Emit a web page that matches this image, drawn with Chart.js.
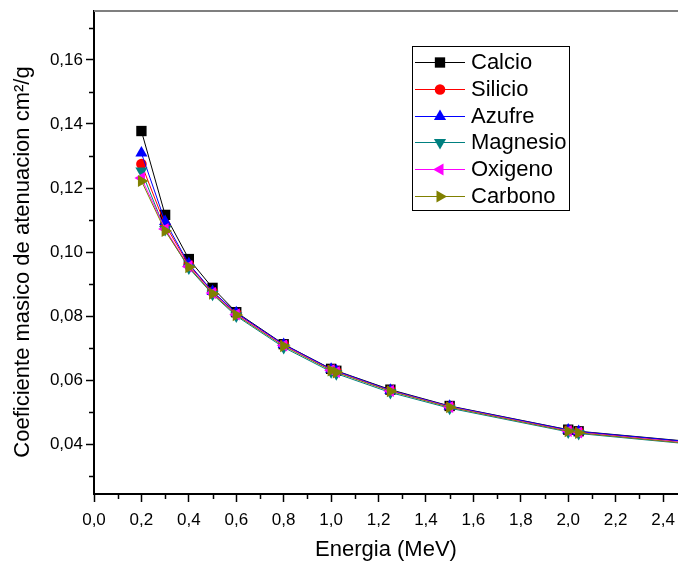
<!DOCTYPE html>
<html>
<head>
<meta charset="utf-8">
<script src="https://cdn.jsdelivr.net/npm/chart.js@4/dist/chart.umd.min.js"></script>
<style>
  body { margin: 0; background: #fff; }
  #wrap { width: 678px; height: 561px; }
</style>
</head>
<body>
<div id="wrap"><canvas id="chart" width="678" height="561"></canvas></div>
<script>
// energias (MeV) y coeficientes
const energies = [0.2, 0.3, 0.4, 0.5, 0.6, 0.8, 1.0, 1.022, 1.25, 1.5, 2.0, 2.044, 3.0];
const calcio   = [0.1378, 0.1116, 0.0978, 0.0888, 0.0812, 0.0712, 0.0635, 0.0629, 0.0570, 0.0519, 0.0445, 0.0440, 0.0375];
const silicio  = [0.1275, 0.1085, 0.0960, 0.0875, 0.0808, 0.0710, 0.0633, 0.0627, 0.0567, 0.0517, 0.0443, 0.0438, 0.0372];
const azufre   = [0.1309, 0.1095, 0.0963, 0.0877, 0.0810, 0.0711, 0.0634, 0.0628, 0.0568, 0.0518, 0.0444, 0.0439, 0.0374];
const magnesio = [0.1253, 0.1070, 0.0950, 0.0868, 0.0800, 0.0702, 0.0626, 0.0620, 0.0561, 0.0512, 0.0438, 0.0433, 0.0366];
const oxigeno  = [0.1231, 0.1072, 0.0955, 0.0872, 0.0805, 0.0708, 0.0631, 0.0625, 0.0566, 0.0516, 0.0441, 0.0436, 0.0368];
const carbono  = [0.1222, 0.1066, 0.0953, 0.0870, 0.0803, 0.0706, 0.0630, 0.0624, 0.0565, 0.0515, 0.0440, 0.0435, 0.0367];
const seriesNames = ['Calcio', 'Silicio', 'Azufre', 'Magnesio', 'Oxigeno', 'Carbono'];

const xTicks = [0, 0.2, 0.4, 0.6, 0.8, 1.0, 1.2, 1.4, 1.6, 1.8, 2.0, 2.2, 2.4];
const xMinor = [0.1, 0.3, 0.5, 0.7, 0.9, 1.1, 1.3, 1.5, 1.7, 1.9, 2.1, 2.3];
const yTicks = [0.04, 0.06, 0.08, 0.10, 0.12, 0.14, 0.16];
const yMinor = [0.03, 0.05, 0.07, 0.09, 0.11, 0.13, 0.15, 0.17];

const FONT = 'Arial, "Liberation Sans", sans-serif';
const colors = ['#000000', '#ff0000', '#0000ff', '#008080', '#ff00ff', '#808000'];
const styles = ['rect', 'circle', 'triangle', 'triangle', 'triangle', 'triangle'];
const rotations = [0, 0, 0, 180, -90, 90];
const radii = [7.3, 5.3, 7, 7, 7, 7];
const values = [calcio, silicio, azufre, magnesio, oxigeno, carbono];

const datasets = seriesNames.map((name, i) => ({
    label: name,
    data: energies.map((e, j) => ({ x: e, y: values[i][j] })),
    borderColor: colors[i],
    backgroundColor: colors[i],
    borderWidth: 1,
    pointStyle: styles[i],
    pointRotation: rotations[i],
    pointRadius: radii[i],
    pointBorderWidth: 0,
    pointHoverRadius: radii[i],
    tension: 0,
    order: 6 - i
}));

const extras = {
    id: 'extras',
    afterDraw(chart) {
        const ctx = chart.ctx;
        const area = chart.chartArea;
        const xs = chart.scales.x, ys = chart.scales.y;
        ctx.save();
        // top frame line
        ctx.strokeStyle = '#7f7f7f';
        ctx.lineWidth = 2;
        ctx.beginPath();
        ctx.moveTo(area.left, area.top);
        ctx.lineTo(area.right, area.top);
        ctx.stroke();
        // minor ticks
        ctx.strokeStyle = '#000';
        ctx.lineWidth = 1.5;
        ctx.beginPath();
        xMinor.forEach(v => {
            const px = Math.round(xs.getPixelForValue(v)) + 0.5;
            ctx.moveTo(px, area.bottom);
            ctx.lineTo(px, area.bottom + 5);
        });
        yMinor.forEach(v => {
            const py = Math.round(ys.getPixelForValue(v)) + 0.5;
            ctx.moveTo(area.left, py);
            ctx.lineTo(area.left - 5, py);
        });
        ctx.stroke();
        // y title, drawn here to place it like the original
        ctx.save();
        ctx.translate(23, 262);
        ctx.rotate(-Math.PI / 2);
        ctx.font = '22px ' + FONT;
        ctx.fillStyle = '#000';
        ctx.textAlign = 'center';
        ctx.textBaseline = 'middle';
        ctx.fillText('Coeficiente masico de atenuacion cm²/g', 0, 0);
        ctx.restore();
        // legend box
        const bx = 412, by = 46, bw = 157, bh = 164;
        ctx.fillStyle = '#fff';
        ctx.fillRect(bx, by, bw, bh);
        ctx.strokeStyle = '#000';
        ctx.lineWidth = 1;
        ctx.strokeRect(bx + 0.5, by + 0.5, bw, bh);
        ctx.font = '22px ' + FONT;
        ctx.textBaseline = 'middle';
        ctx.textAlign = 'left';
        chart.data.datasets.forEach((ds, i) => {
            const y = 62 + i * 26.8;
            ctx.strokeStyle = ds.borderColor;
            ctx.lineWidth = 1;
            ctx.beginPath();
            ctx.moveTo(415, Math.round(y) + 0.5);
            ctx.lineTo(465, Math.round(y) + 0.5);
            ctx.stroke();
            ctx.fillStyle = ds.backgroundColor;
            Chart.helpers.drawPoint(ctx, {
                pointStyle: ds.pointStyle, rotation: ds.pointRotation,
                radius: ds.pointRadius, borderWidth: 0
            }, 440, Math.round(y) + 0.5);
            ctx.fillStyle = '#000';
            ctx.fillText(ds.label, 471, y + 1);
        });
        ctx.restore();
    }
};

new Chart(document.getElementById('chart'), {
    type: 'line',
    data: { datasets },
    options: {
        responsive: false,
        animation: false,
        events: [],
        layout: { autoPadding: false, padding: { top: 11, right: 0, left: 0, bottom: 0 } },
        plugins: { legend: { display: false }, tooltip: { enabled: false } },
        scales: {
            x: {
                type: 'linear',
                min: 0,
                max: 2.463,
                afterBuildTicks: s => { s.ticks = xTicks.map(v => ({ value: v })); },
                afterFit: s => { s.height = 67; s.paddingLeft = 0; s.paddingRight = 0; },
                border: { color: '#000', width: 2 },
                grid: { drawOnChartArea: false, tickLength: 8, color: '#000', tickWidth: 1.5 },
                ticks: {
                    font: { family: FONT, size: 17 }, color: '#000', padding: 8,
                    maxRotation: 0, autoSkip: false,
                    callback: v => v.toFixed(1).replace('.', ',')
                },
                title: {
                    display: true, text: 'Energia (MeV)', color: '#000',
                    font: { family: FONT, size: 22 }, padding: { top: 0, bottom: -2 }
                }
            },
            y: {
                type: 'linear',
                min: 0.0244,
                max: 0.1753,
                afterBuildTicks: s => { s.ticks = yTicks.map(v => ({ value: v })); },
                afterFit: s => { s.width = 94; s.paddingTop = 0; s.paddingBottom = 0; },
                border: { color: '#000', width: 2 },
                grid: { drawOnChartArea: false, tickLength: 8, color: '#000', tickWidth: 1.5 },
                ticks: {
                    font: { family: FONT, size: 17 }, color: '#000', padding: 3,
                    autoSkip: false,
                    callback: v => v.toFixed(2).replace('.', ',')
                }
            }
        }
    },
    plugins: [extras]
});
</script>
</body>
</html>
